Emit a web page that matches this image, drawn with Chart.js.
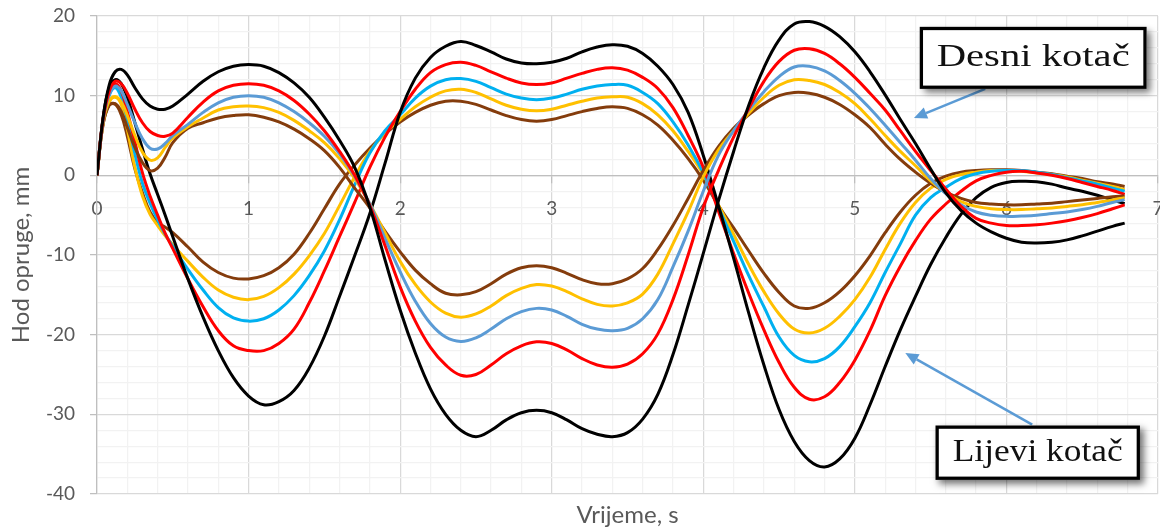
<!DOCTYPE html>
<html lang="hr">
<head>
<meta charset="utf-8">
<title>Hod opruge</title>
<script src="https://cdn.jsdelivr.net/npm/chart.js@4.4.1/dist/chart.umd.min.js"></script>
<style>
  html, body { margin: 0; padding: 0; background: #fff; }
  #wrap { width: 1160px; height: 529px; }
</style>
</head>
<body>
<div id="wrap"><canvas id="graf" width="1160" height="529"></canvas></div>
<script>
  // Vrijeme, s
  const vrijeme = [0, 0.04, 0.08, 0.12, 0.16, 0.2, 0.25, 0.3, 0.35, 0.4, 0.45, 0.5,
    0.6, 0.7, 0.8, 0.9, 1.0,
    1.1, 1.2, 1.3, 1.4, 1.5, 1.6, 1.7, 1.8, 1.9, 2.0,
    2.1, 2.2, 2.3, 2.4, 2.5, 2.6, 2.7, 2.8, 2.9, 3.0,
    3.1, 3.2, 3.3, 3.4, 3.5, 3.6, 3.7, 3.8, 3.9, 4.0,
    4.1, 4.2, 4.3, 4.4, 4.5, 4.6, 4.7, 4.8, 4.9, 5.0,
    5.1, 5.2, 5.3, 5.4, 5.5, 5.6, 5.7, 5.8, 5.9, 6.0,
    6.1, 6.2, 6.3, 6.4, 6.5, 6.6, 6.7, 6.78];

  // Desni kotač, hod opruge (mm)
  const desniCrna = [0, 7.2, 11.3, 13.0, 13.3, 12.6, 11.0, 9.6, 8.7, 8.3, 8.3, 8.7,
    10.2, 11.8, 13.0, 13.7, 13.9,
    13.7, 12.9, 11.6, 9.8, 7.3, 4.4, 1.0, -4.0, -10.6, -16.9,
    -22.3, -26.8, -30.0, -32.0, -32.8, -32.0, -30.7, -29.8, -29.5, -29.8,
    -30.7, -31.8, -32.5, -32.8, -32.3, -30.6, -27.5, -22.5, -16.3, -9.8,
    -3.2, 3.0, 8.8, 13.5, 17.0, 19.0, 19.3, 18.7, 17.4, 15.5,
    13.0, 10.1, 7.0, 4.0, 0.8, -2.2, -4.4, -6.0, -7.1, -7.9,
    -8.4, -8.5, -8.4, -8.1, -7.6, -7.0, -6.4, -6.0];
  const desniCrvena = [0, 7.0, 10.5, 11.8, 11.5, 10.3, 8.3, 6.6, 5.5, 5.0, 4.9, 5.3,
    7.3, 9.2, 10.6, 11.3, 11.5,
    11.3, 10.6, 9.4, 7.7, 5.6, 3.0, 0.0, -3.8, -8.8, -14.0,
    -18.3, -21.6, -23.8, -25.1, -25.0, -23.8, -22.4, -21.4, -20.9, -21.1,
    -21.9, -23.0, -23.8, -24.1, -23.7, -22.4, -19.9, -15.6, -10.0, -4.0,
    0.6, 4.8, 8.4, 11.8, 14.3, 15.7, 15.9, 15.3, 14.0, 12.3,
    10.3, 8.2, 5.6, 3.0, 0.6, -1.7, -3.9, -5.4, -6.0, -6.3,
    -6.3, -6.2, -6.0, -5.7, -5.3, -4.8, -4.2, -3.7];
  const desniPlava = [0, 6.8, 10.1, 11.2, 10.6, 8.9, 6.6, 4.6, 3.4, 3.3, 4.0, 5.0,
    6.4, 7.9, 9.1, 9.8, 10.0,
    9.8, 9.1, 8.0, 6.6, 4.9, 2.7, -0.1, -3.6, -7.9, -12.1,
    -15.8, -18.6, -20.3, -20.85, -20.4, -19.3, -18.0, -17.1, -16.7, -16.9,
    -17.7, -18.7, -19.3, -19.5, -19.2, -18.0, -15.6, -11.5, -7.0, -2.0,
    2.5, 5.6, 8.2, 10.5, 12.4, 13.6, 13.7, 13.1, 11.9, 10.3,
    8.4, 6.3, 4.1, 1.9, -0.4, -2.3, -3.7, -4.6, -5.0, -5.15,
    -5.1, -5.0, -4.8, -4.6, -4.3, -3.9, -3.4, -3.05];
  const desniZuta = [0, 6.6, 9.3, 9.9, 9.2, 7.5, 5.0, 2.9, 1.9, 2.2, 3.5, 4.7,
    6.1, 7.2, 8.2, 8.6, 8.7,
    8.5, 7.9, 6.9, 5.6, 4.1, 2.1, -0.4, -3.6, -7.2, -10.8,
    -13.7, -15.9, -17.3, -17.8, -17.4, -16.4, -15.1, -14.2, -13.7, -13.9,
    -14.6, -15.5, -16.2, -16.4, -16.0, -14.9, -12.4, -8.6, -4.6, -0.2,
    3.2, 5.6, 7.8, 9.8, 11.3, 12.0, 11.9, 11.4, 10.4, 9.0,
    7.1, 5.0, 3.0, 1.2, -0.7, -2.2, -3.3, -3.9, -4.2, -4.3,
    -4.3, -4.2, -4.1, -3.9, -3.7, -3.4, -3.1, -2.8];
  const desniSmeda = [0, 6.4, 8.8, 9.0, 8.0, 6.0, 3.5, 1.6, 0.6, 0.9, 2.3, 4.1,
    5.9, 6.6, 7.2, 7.5, 7.6,
    7.3, 6.7, 5.8, 4.6, 3.1, 1.0, -1.6, -4.1, -7.0, -9.6,
    -11.9, -13.6, -14.8, -15.0, -14.6, -13.6, -12.4, -11.6, -11.35, -11.6,
    -12.3, -13.1, -13.6, -13.6, -13.0, -11.7, -9.3, -6.3, -2.9, 0.6,
    3.6, 5.9, 7.6, 9.0, 10.0, 10.4, 10.3, 9.8, 8.9, 7.6,
    6.0, 3.9, 2.0, 0.4, -1.0, -2.1, -2.9, -3.4, -3.6, -3.7,
    -3.7, -3.6, -3.5, -3.3, -3.1, -2.9, -2.7, -2.6];

  // Lijevi kotač, hod opruge (mm)
  const lijeviCrna = [0, 7.2, 11.0, 12.0, 11.5, 9.8, 6.6, 3.3, 0.2, -2.4, -5.0, -7.7,
    -13.0, -17.8, -22.0, -25.4, -27.7,
    -28.8, -28.4, -27.0, -24.2, -20.2, -15.2, -10.1, -4.8, 1.5, 7.9,
    12.2, 14.8, 16.2, 16.8, 16.3, 15.5, 14.6, 14.1, 14.0, 14.2,
    14.7, 15.5, 16.1, 16.4, 16.2, 15.3, 13.7, 11.4, 7.9, 2.5,
    -3.8, -10.4, -17.3, -23.8, -29.4, -33.4, -35.8, -36.6, -35.6, -33.0,
    -28.8, -24.0, -19.4, -15.2, -11.2, -7.8, -4.9, -2.8, -1.5, -0.9,
    -0.75, -0.8, -1.1, -1.6, -2.0, -2.5, -3.1, -3.55];
  const lijeviCrvena = [0, 7.0, 10.5, 11.5, 10.6, 8.0, 4.2, 0.3, -2.6, -5.0, -7.3, -9.2,
    -13.0, -16.5, -19.5, -21.4, -22.0,
    -22.0, -21.1, -19.3, -16.0, -12.0, -7.7, -3.4, 1.0, 4.8, 8.0,
    10.8, 12.9, 13.9, 14.2, 13.8, 13.0, 12.2, 11.6, 11.4, 11.6,
    12.2, 12.8, 13.3, 13.5, 13.2, 12.3, 10.9, 8.5, 5.0, 1.0,
    -4.5, -9.8, -14.8, -19.4, -23.5, -26.6, -28.1, -27.8, -26.0, -23.2,
    -19.5, -15.1, -11.4, -8.2, -5.5, -3.6, -2.0, -0.7, 0.0, 0.4,
    0.5, 0.3, 0.0, -0.4, -0.9, -1.4, -1.9, -2.4];
  const lijeviSvijetloPlava = [0, 6.8, 10.0, 11.0, 9.8, 7.0, 2.7, -1.0, -3.5, -5.6, -7.4, -8.9,
    -11.8, -14.4, -16.6, -17.9, -18.3,
    -18.0, -16.9, -15.1, -12.6, -9.5, -5.6, -1.2, 2.8, 5.6, 7.6,
    9.7, 11.2, 12.0, 12.15, 11.8, 11.0, 10.2, 9.7, 9.5, 9.7,
    10.2, 10.8, 11.2, 11.4, 11.3, 10.4, 9.0, 6.7, 3.8, 0.3,
    -4.0, -8.3, -12.6, -16.5, -20.3, -22.6, -23.4, -23.0, -21.5, -19.0,
    -16.0, -12.2, -8.6, -5.0, -2.8, -1.5, -0.4, 0.2, 0.5, 0.6,
    0.6, 0.4, 0.1, -0.3, -0.7, -1.1, -1.6, -2.0];
  const lijeviZuta = [0, 6.6, 9.2, 9.8, 8.9, 5.8, 1.0, -2.6, -4.9, -6.3, -7.6, -8.7,
    -10.8, -12.8, -14.4, -15.3, -15.6,
    -15.2, -14.1, -12.4, -10.1, -7.3, -3.8, -0.2, 3.0, 5.3, 7.0,
    8.6, 9.8, 10.6, 10.8, 10.4, 9.6, 8.8, 8.3, 8.1, 8.3,
    8.8, 9.3, 9.7, 9.85, 9.8, 9.0, 7.6, 5.6, 3.0, 0.1,
    -3.7, -7.4, -11.2, -14.6, -17.4, -19.3, -19.8, -19.2, -17.7, -15.6,
    -12.8, -9.3, -6.0, -3.4, -1.6, -0.5, 0.1, 0.4, 0.6, 0.6,
    0.5, 0.3, 0.1, -0.2, -0.6, -1.0, -1.4, -1.8];
  const lijeviSmeda = [0, 6.4, 8.8, 8.9, 7.6, 4.9, 0.8, -2.2, -4.6, -5.9, -6.5, -7.2,
    -9.0, -10.9, -12.2, -12.9, -13.0,
    -12.6, -11.6, -9.9, -7.3, -4.2, -1.1, 1.3, 3.4, 5.2, 6.7,
    7.9, 8.8, 9.3, 9.3, 8.9, 8.2, 7.5, 7.0, 6.8, 7.0,
    7.5, 8.0, 8.4, 8.6, 8.4, 7.6, 6.3, 4.4, 2.1, -0.6,
    -3.8, -6.6, -9.5, -12.3, -14.7, -16.4, -16.7, -16.0, -14.6, -12.6,
    -10.1, -7.2, -4.6, -2.5, -1.0, -0.1, 0.4, 0.6, 0.7, 0.7,
    0.6, 0.4, 0.2, -0.1, -0.4, -0.8, -1.1, -1.4];

  // Oznake osi
  const xOznake = [0, 1, 2, 3, 4, 5, 6, 7];
  const yOznake = [-40, -30, -20, -10, 0, 10, 20];
  const naslovX = 'Vrijeme, s';
  const naslovY = 'Hod opruge, mm';

  // Tekst, okvir [x1, x2, y1, y2] i strelica [x0, y0, x1, y1] u jedinicama osi
  const oblacici = [
    { tekst: 'Desni kotač', okvir: [5.428, 6.925, 18.64, 10.85], strelica: [5.86, 10.85, 5.39, 7.2], sirina: 193 },
    { tekst: 'Lijevi kotač', okvir: [5.532, 6.881, -31.4, -38.23], strelica: [6.17, -31.3, 5.333, -22.3], sirina: 170 }
  ];

  const serije = [
    { label: 'Desni 1', data: desniCrna, boja: '#000000' },
    { label: 'Desni 2', data: desniCrvena, boja: '#ff0000' },
    { label: 'Desni 3', data: desniPlava, boja: '#5b9bd5' },
    { label: 'Desni 4', data: desniZuta, boja: '#ffc000' },
    { label: 'Desni 5', data: desniSmeda, boja: '#843c0c' },
    { label: 'Lijevi 1', data: lijeviCrna, boja: '#000000' },
    { label: 'Lijevi 2', data: lijeviCrvena, boja: '#ff0000' },
    { label: 'Lijevi 3', data: lijeviSvijetloPlava, boja: '#00b0f0' },
    { label: 'Lijevi 4', data: lijeviZuta, boja: '#ffc000' },
    { label: 'Lijevi 5', data: lijeviSmeda, boja: '#843c0c' }
  ];

  const isMajor = (v, list) => list.some(t => Math.abs(t - v) < 1e-6);
  const sivaTekst = '#595959';
  const fontOsi = { family: 'Lato', size: 19 };

  const datasets = serije.map(s => ({
    label: s.label,
    data: s.data.map((v, i) => ({ x: vrijeme[i], y: v })),
    borderColor: s.boja,
    backgroundColor: s.boja,
    borderWidth: 3,
    pointRadius: 0,
    tension: 0.4,
    fill: false
  }));

  function crtajOblacic(ctx, x, y, o) {
    const bx1 = x.getPixelForValue(o.okvir[0]);
    const bx2 = x.getPixelForValue(o.okvir[1]);
    const by1 = y.getPixelForValue(o.okvir[2]);
    const by2 = y.getPixelForValue(o.okvir[3]);
    const sx = x.getPixelForValue(o.strelica[0]);
    const sy = y.getPixelForValue(o.strelica[1]);
    const tx = x.getPixelForValue(o.strelica[2]);
    const ty = y.getPixelForValue(o.strelica[3]);

    // strelica
    const kut = Math.atan2(ty - sy, tx - sx);
    const duz = 13, pola = 6;
    const ax = tx - duz * Math.cos(kut), ay = ty - duz * Math.sin(kut);
    ctx.save();
    ctx.strokeStyle = '#5b9bd5';
    ctx.fillStyle = '#5b9bd5';
    ctx.lineWidth = 2.5;
    ctx.beginPath();
    ctx.moveTo(sx, sy);
    ctx.lineTo(ax, ay);
    ctx.stroke();
    ctx.beginPath();
    ctx.moveTo(tx, ty);
    ctx.lineTo(ax + pola * Math.sin(kut), ay - pola * Math.cos(kut));
    ctx.lineTo(ax - pola * Math.sin(kut), ay + pola * Math.cos(kut));
    ctx.closePath();
    ctx.fill();
    ctx.restore();

    // okvir sa sjenom
    const w = bx2 - bx1, h = by2 - by1;
    ctx.save();
    ctx.shadowColor = 'rgba(0,0,0,0.55)';
    ctx.shadowBlur = 7;
    ctx.shadowOffsetX = 4;
    ctx.shadowOffsetY = 4;
    ctx.fillStyle = '#ffffff';
    ctx.fillRect(bx1, by1, w, h);
    ctx.restore();
    ctx.save();
    ctx.strokeStyle = '#000000';
    ctx.lineWidth = 3.3;
    ctx.strokeRect(bx1 + 1.65, by1 + 1.65, w - 3.3, h - 3.3);

    // tekst
    ctx.font = '31px "Liberation Serif"';
    ctx.fillStyle = '#111111';
    ctx.textAlign = 'center';
    ctx.textBaseline = 'alphabetic';
    const mj = ctx.measureText(o.tekst).width;
    ctx.translate((bx1 + bx2) / 2, (by1 + by2) / 2 + 8);
    ctx.scale(o.sirina / mj, 1);
    ctx.fillText(o.tekst, 0, 0);
    ctx.restore();
  }

  const oznakePlugin = {
    id: 'oznake',
    afterDraw(chart) {
      const { ctx, chartArea, scales } = chart;
      ctx.save();
      ctx.fillStyle = sivaTekst;
      ctx.font = '24px Lato';
      ctx.textAlign = 'center';
      ctx.textBaseline = 'alphabetic';
      ctx.fillText(naslovX, (chartArea.left + chartArea.right) / 2, 523);
      ctx.translate(29, (chartArea.top + chartArea.bottom) / 2);
      ctx.rotate(-Math.PI / 2);
      ctx.fillText(naslovY, 0, 0);
      ctx.restore();

      oblacici.forEach(o => crtajOblacic(ctx, scales.x, scales.y, o));
    }
  };

  const ctx = document.getElementById('graf').getContext('2d');
  new Chart(ctx, {
    type: 'line',
    data: { datasets },
    options: {
      responsive: false,
      animation: false,
      layout: { padding: { left: 0, right: 2, top: 16, bottom: 35 } },
      plugins: { legend: { display: false }, tooltip: { enabled: false } },
      scales: {
        x: {
          type: 'linear',
          min: 0,
          max: 7,
          position: { y: 0 },
          ticks: {
            stepSize: 0.2,
            autoSkip: false,
            maxRotation: 0,
            padding: 15,
            color: sivaTekst,
            font: fontOsi,
            callback: v => isMajor(v, xOznake) ? String(Math.round(v)) : ''
          },
          grid: {
            color: c => isMajor(c.tick.value, xOznake) ? '#d9d9d9' : '#f2f2f2',
            tickColor: c => isMajor(c.tick.value, xOznake) ? '#bfbfbf' : 'rgba(0,0,0,0)',
            lineWidth: 1.25,
            tickLength: 7
          },
          border: { display: true, color: '#bfbfbf', width: 1.25 },
          afterFit: s => { s.paddingLeft = 0; s.paddingRight = 0; }
        },
        y: {
          type: 'linear',
          min: -40,
          max: 20,
          ticks: {
            stepSize: 2,
            autoSkip: false,
            padding: 15,
            color: sivaTekst,
            font: fontOsi,
            callback: v => isMajor(v, yOznake) ? String(Math.round(v)) : ''
          },
          grid: {
            color: c => isMajor(c.tick.value, yOznake) ? '#d9d9d9' : '#f2f2f2',
            tickColor: c => isMajor(c.tick.value, yOznake) ? '#bfbfbf' : 'rgba(0,0,0,0)',
            lineWidth: 1.25,
            tickLength: 7
          },
          border: { display: true, color: '#bfbfbf', width: 1.25 },
          afterFit: s => { s.width = 97; s.paddingTop = 0; s.paddingBottom = 0; }
        }
      }
    },
    plugins: [oznakePlugin]
  });
</script>
</body>
</html>
